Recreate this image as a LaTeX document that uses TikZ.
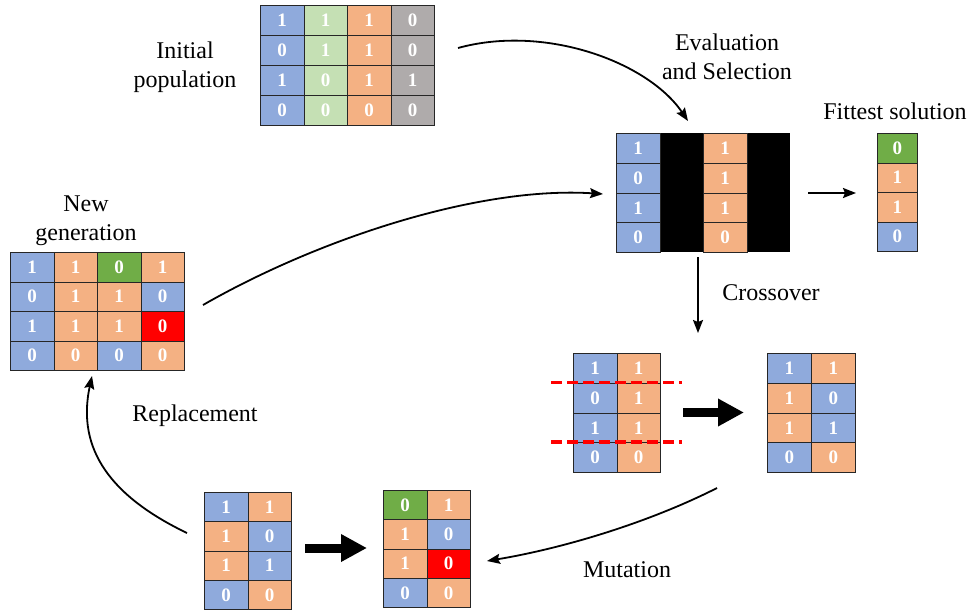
\documentclass[tikz,border=0pt]{standalone}
\usepackage{fontspec}
\setmainfont{Liberation Serif}
\usetikzlibrary{arrows.meta}

\definecolor{gblue}{HTML}{8FAADC}
\definecolor{glight}{HTML}{C5E0B4}
\definecolor{gorange}{HTML}{F4B183}
\definecolor{ggray}{HTML}{AFABAB}
\definecolor{ggreen}{HTML}{70AD47}
\definecolor{gred}{HTML}{FF0000}
\definecolor{gline}{HTML}{262626}

\tikzset{
  gene/.style={draw=gline, line width=0.8pt, inner sep=0pt, anchor=north west,
    text=white, font=\fontsize{19}{19}\selectfont\bfseries},
  label/.style={font=\fontsize{24}{29}\selectfont, align=center, text=black},
  flow/.style={line width=1.8pt, -{Stealth[length=13pt,width=10pt,inset=2pt]}},
  bigflow/.style={line width=9pt, -{Triangle[length=26pt,width=26pt]}},
  cut/.style={draw=gred, line width=3.6pt, dash pattern=on 11pt off 5pt},
}

% one chromosome cell: x, y (top left), width, height, colour, value
\newcommand\gacell[6]{%
  \node[gene, fill=#5, minimum width=#3pt, minimum height=#4pt] at (#1,#2) {#6};}

\begin{document}
\begin{tikzpicture}[x=1pt, y=-1pt]
\useasboundingbox (0,0) rectangle (969,615);

% ---------- initial population ----------
\foreach \r/\a/\b/\cc/\d in {0/1/1/1/0, 1/0/1/1/0, 2/1/0/1/1, 3/0/0/0/0}{
  \gacell{260}{5+30*\r}{43.5}{30}{gblue}{\a}
  \gacell{303.5}{5+30*\r}{43.5}{30}{glight}{\b}
  \gacell{347}{5+30*\r}{43.5}{30}{gorange}{\cc}
  \gacell{390.5}{5+30*\r}{43.5}{30}{ggray}{\d}
}
\node[label] (lblinit) at (185,67) {Initial\\population};

% ---------- evaluation and selection ----------
\fill[black] (659.5,133) rectangle (703,252);
\fill[black] (746.5,133) rectangle (790,252);
\foreach \r/\a/\b in {0/1/1, 1/0/1, 2/1/1, 3/0/0}{
  \gacell{616}{133+29.75*\r}{43.5}{29.75}{gblue}{\a}
  \gacell{703}{133+29.75*\r}{43.5}{29.75}{gorange}{\b}
}
\node[label] (lbleval) at (727,57) {Evaluation\\and Selection};

% ---------- fittest solution ----------
\foreach \r/\col/\v in {0/ggreen/0, 1/gorange/1, 2/gorange/1, 3/gblue/0}{
  \gacell{877}{133+29.5*\r}{40}{29.5}{\col}{\v}
}
\node[label, anchor=base] (lblfit) at (895,120) {Fittest solution};

% ---------- new generation ----------
\foreach \r/\ca/\a/\cb/\b/\cc/\cv/\cd/\d in {
  0/gblue/1/gorange/1/ggreen/0/gorange/1,
  1/gblue/0/gorange/1/gorange/1/gblue/0,
  2/gblue/1/gorange/1/gorange/1/gred/0,
  3/gblue/0/gorange/0/gblue/0/gorange/0}{
  \gacell{10}{252+29.5*\r}{43.5}{29.5}{\ca}{\a}
  \gacell{53.5}{252+29.5*\r}{43.5}{29.5}{\cb}{\b}
  \gacell{97}{252+29.5*\r}{43.5}{29.5}{\cc}{\cv}
  \gacell{140.5}{252+29.5*\r}{43.5}{29.5}{\cd}{\d}
}
\node[label] (lblnew) at (86,221) {New\\generation};

% ---------- crossover ----------
\foreach \r/\a/\b in {0/1/1, 1/0/1, 2/1/1, 3/0/0}{
  \gacell{573}{353+29.75*\r}{43.5}{29.75}{gblue}{\a}
  \gacell{616.5}{353+29.75*\r}{43.5}{29.75}{gorange}{\b}
}
\draw[cut] (551,382.5) -- (682,382.5);
\draw[cut] (551,442) -- (682,442);
\foreach \r/\ca/\a/\cb/\b in {0/gblue/1/gorange/1, 1/gorange/1/gblue/0,
                              2/gorange/1/gblue/1, 3/gblue/0/gorange/0}{
  \gacell{767}{353+29.75*\r}{44}{29.75}{\ca}{\a}
  \gacell{811}{353+29.75*\r}{44}{29.75}{\cb}{\b}
}
\node[label, anchor=base] (lblcross) at (771,300) {Crossover};

% ---------- mutation ----------
\foreach \r/\ca/\a/\cb/\b in {0/gblue/1/gorange/1, 1/gorange/1/gblue/0,
                              2/gorange/1/gblue/1, 3/gblue/0/gorange/0}{
  \gacell{204}{492+29.25*\r}{43.5}{29.25}{\ca}{\a}
  \gacell{247.5}{492+29.25*\r}{43.5}{29.25}{\cb}{\b}
}
\foreach \r/\ca/\a/\cb/\b in {0/ggreen/0/gorange/1, 1/gorange/1/gblue/0,
                              2/gorange/1/gred/0, 3/gblue/0/gorange/0}{
  \gacell{383}{490+29.25*\r}{43.5}{29.25}{\ca}{\a}
  \gacell{426.5}{490+29.25*\r}{43.5}{29.25}{\cb}{\b}
}
\node[label, anchor=base] (lblmut) at (627,577) {Mutation};
\node[label, anchor=base] (lblrep) at (195,421) {Replacement};

% ---------- connector end points ----------
\coordinate (initout)  at (458,48);
\coordinate (evalin)   at (688,121);
\coordinate (evalout)  at (808,193);
\coordinate (fitin)    at (856,193);
\coordinate (evaldown) at (698,257);
\coordinate (crossin)  at (698,333);
\coordinate (cutout)   at (683,412.5);
\coordinate (swapin)   at (744,412.5);
\coordinate (crossout) at (717,488);
\coordinate (mutin)    at (487,561);
\coordinate (flipout)  at (305,548);
\coordinate (flipin)   at (367,548);
\coordinate (mutout)   at (187,533);
\coordinate (newin)    at (92,376);
\coordinate (newout)   at (203,305);
\coordinate (evalleft) at (603,194);

% ---------- connectors ----------
\draw[flow] (initout) .. controls (545,24) and (648,62) .. (evalin);
\draw[flow] (evalout) -- (fitin);
\draw[flow] (evaldown) -- (crossin);
\draw[bigflow] (cutout) -- (swapin);
\draw[flow] (crossout) .. controls (650,522) and (565,548) .. (mutin);
\draw[bigflow] (flipout) -- (flipin);
\draw[flow] (mutout) .. controls (112,497) and (76,450) .. (newin);
\draw[flow] (newout) .. controls (320,238) and (480,186) .. (evalleft);

\end{tikzpicture}
\end{document}
